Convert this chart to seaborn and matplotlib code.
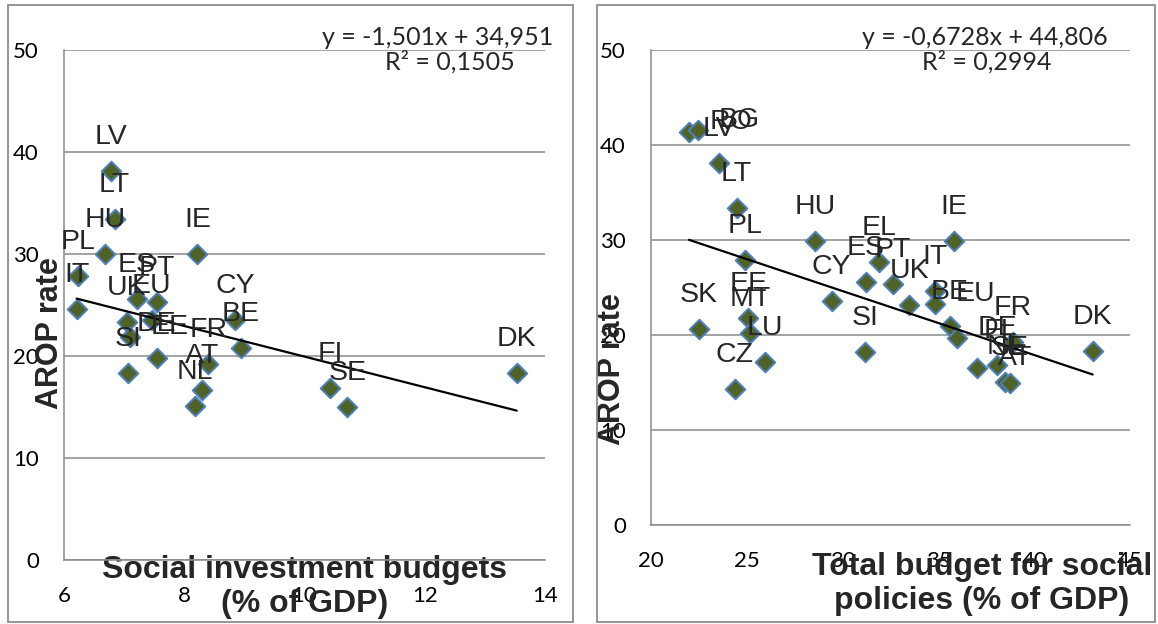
import matplotlib
matplotlib.use("Agg")
import matplotlib.pyplot as plt
import numpy as np
import pandas as pd
import seaborn as sns
from matplotlib.patches import Rectangle

# ---- data: social investment budgets (% of GDP) vs AROP rate ----
si_countries = ["LV", "LT", "HU", "PL", "IT", "IE", "ES", "PT", "UK", "EU", "EE",
                "DE", "SI", "CY", "BE", "FR", "AT", "NL", "FI", "SE", "DK"]
si_budget = [6.78, 6.84, 6.68, 6.23, 6.21, 8.22, 7.21, 7.54, 7.04, 7.46, 7.10,
             7.54, 7.07, 8.85, 8.94, 8.40, 8.29, 8.18, 10.43, 10.71, 13.53]
si_arop = [38.1, 33.4, 30.0, 27.8, 24.6, 30.0, 25.6, 25.3, 23.3, 23.5, 21.9,
           19.8, 18.3, 23.5, 20.8, 19.2, 16.7, 15.1, 16.9, 15.0, 18.3]
si_slope, si_intercept, si_r2 = -1.501, 34.951, 0.1505

# ---- data: total budget for social policies (% of GDP) vs AROP rate ----
tb_countries = ["RO", "BG", "LV", "LT", "PL", "SK", "EE", "MT", "LU", "CZ", "HU",
                "CY", "SI", "EL", "ES", "PT", "UK", "IT", "IE", "EU", "BE", "DE",
                "FR", "AT", "FI", "NL", "SE", "DK"]
tb_budget = [21.98, 22.44, 23.55, 24.47, 24.90, 22.50, 25.08, 25.17, 25.95, 24.38, 28.56,
             29.43, 31.17, 31.90, 31.22, 32.61, 33.48, 34.82, 35.81, 34.82, 35.60, 35.95,
             38.90, 37.00, 38.04, 38.48, 38.74, 43.05]
tb_arop = [41.4, 41.6, 38.1, 33.4, 27.9, 20.6, 21.8, 20.2, 17.2, 14.3, 29.9,
           23.6, 18.2, 27.7, 25.6, 25.4, 23.2, 24.6, 29.9, 23.3, 20.9, 19.7,
           19.3, 16.5, 16.8, 15.1, 15.0, 18.3]
tb_slope, tb_intercept, tb_r2 = -0.6728, 44.806, 0.2994

# labels placed to the right of their marker instead of above it
si_right_labels = {"EE"}
tb_right_labels = {"RO", "BG", "EU", "DE", "AT"}

W, H = 1158, 624
FILL = "#4F6228"
EDGE = "#4F81BD"
GRID = "#8A8A8A"
TICK_FONT = "Lato"
LABEL_FONT = "Liberation Sans"

sns.set_theme(style="white")
plt.rcParams["font.family"] = ["Liberation Sans", "DejaVu Sans"]

fig = plt.figure(figsize=(W / 100, H / 100), dpi=100)


def axes_px(x0, x1, y0, y1):
    return fig.add_axes([x0 / W, 1 - y1 / H, (x1 - x0) / W, (y1 - y0) / H])


def frame_px(x0, x1, y0, y1):
    fig.add_artist(Rectangle((x0 / W, 1 - y1 / H), (x1 - x0) / W, (y1 - y0) / H,
                             transform=fig.transFigure, fill=False,
                             edgecolor="#8C8C8C", linewidth=1.3))


def panel(ax, countries, xs, ys, slope, intercept, r2, xlim, xticks, right_labels,
          xlabel, xlabel_pos, ylabel_pos, eq_x, r2_x, xpad):
    df = pd.DataFrame({"country": countries, "budget": xs, "arop": ys})
    ax.set_xlim(*xlim)
    ax.set_ylim(0, 50)
    ax.set_xticks(xticks)
    ax.set_yticks(range(0, 51, 10))
    ax.yaxis.grid(True, color=GRID, linewidth=1.1)
    ax.xaxis.grid(False)
    ax.set_axisbelow(True)
    for s in ("top", "right"):
        ax.spines[s].set_visible(False)
    for s in ("left", "bottom"):
        ax.spines[s].set_color(GRID)
        ax.spines[s].set_linewidth(1.1)
    ax.tick_params(axis="both", length=0, labelsize=16, colors="black")
    ax.tick_params(axis="y", pad=18)
    ax.tick_params(axis="x", pad=xpad)
    for lab in ax.get_xticklabels() + ax.get_yticklabels():
        lab.set_fontfamily(TICK_FONT)

    sns.scatterplot(data=df, x="budget", y="arop", ax=ax, marker="D", s=100,
                    color=FILL, edgecolor=EDGE, linewidth=1.4, zorder=3,
                    legend=False)

    # linear trend line over the observed range
    xr = np.array([df["budget"].min(), df["budget"].max()])
    ax.plot(xr, slope * xr + intercept, color="black", linewidth=1.6, zorder=4)

    for c, x, y in zip(countries, xs, ys):
        if c in right_labels:
            ax.annotate(c, (x, y), xytext=(15, 2), textcoords="offset points",
                        ha="left", va="baseline", fontsize=20.5,
                        fontfamily=LABEL_FONT, zorder=5)
        else:
            ax.annotate(c, (x, y), xytext=(0, 19.5), textcoords="offset points",
                        ha="center", va="baseline", fontsize=20.5,
                        fontfamily=LABEL_FONT, zorder=5)

    ax.set_xlabel(xlabel, fontsize=23, fontweight="bold", linespacing=1.15)
    ax.xaxis.label.set_va("center")
    ax.xaxis.set_label_coords(*xlabel_pos)
    ax.set_ylabel("AROP rate", fontsize=22, fontweight="bold")
    ax.yaxis.label.set_va("center")
    ax.yaxis.set_label_coords(*ylabel_pos)

    # trend line equation and R²
    s_slope = f"{slope:.4g}".replace(".", ",")
    s_int = f"{intercept:.5g}".replace(".", ",")
    s_r2 = str(r2).replace(".", ",")
    ax.annotate(f"y = {s_slope}x + {s_int}", xy=(eq_x, 1), xycoords="axes fraction",
                xytext=(0, 9), textcoords="offset points",
                ha="center", va="center", fontsize=18, fontfamily=TICK_FONT)
    ax.annotate(f"R² = {s_r2}", xy=(r2_x, 1), xycoords="axes fraction",
                xytext=(0, -8.5), textcoords="offset points",
                ha="center", va="center", fontsize=18, fontfamily=TICK_FONT)


frame_px(8, 573, 5, 622)
frame_px(597, 1155, 5, 622)

ax1 = axes_px(64, 545, 50, 560)
panel(ax1, si_countries, si_budget, si_arop, si_slope, si_intercept, si_r2,
      (6, 14), range(6, 15, 2), si_right_labels,
      "Social investment budgets\n(% of GDP)",
      xlabel_pos=(0.501, -0.053), ylabel_pos=(-0.029, 0.445),
      eq_x=(438 - 64) / 481, r2_x=(450 - 64) / 481, xpad=19)

ax2 = axes_px(651, 1130, 50, 525)
panel(ax2, tb_countries, tb_budget, tb_arop, tb_slope, tb_intercept, tb_r2,
      (20, 45), range(20, 46, 5), tb_right_labels,
      "Total budget for social\npolicies (% of GDP)",
      xlabel_pos=(0.691, -0.124), ylabel_pos=(-0.0814, 0.328),
      eq_x=(985 - 651) / 479, r2_x=(987 - 651) / 479, xpad=19)

fig.savefig("out.png", dpi=100)
